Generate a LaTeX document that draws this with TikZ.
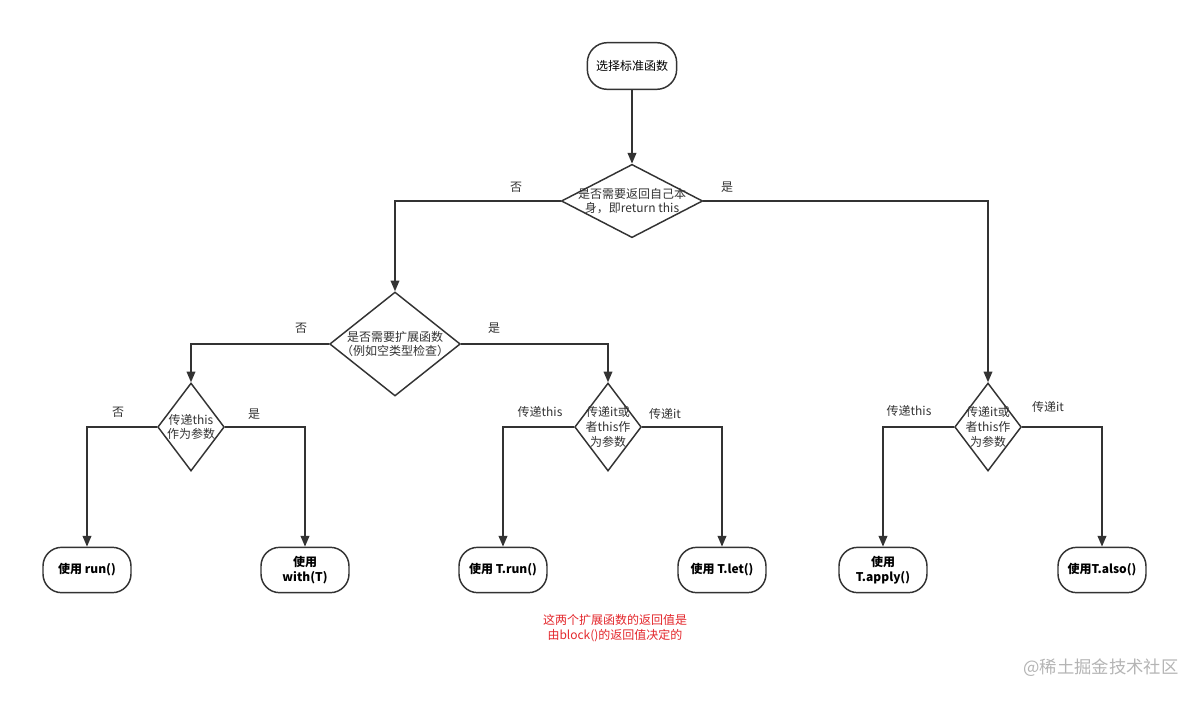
\documentclass[tikz,border=0pt]{standalone}
\usepackage{fontspec}
\setmainfont{Noto Sans CJK SC}
\usepackage{tikz}
\usetikzlibrary{shapes,shapes.geometric,arrows.meta,positioning}
\definecolor{linegray}{HTML}{333333}
\definecolor{notered}{HTML}{E3262B}
\definecolor{markgray}{HTML}{B4B4B4}

\begin{document}
\begin{tikzpicture}[x=0.75pt, y=-0.75pt,
  term/.style={rectangle, draw=linegray, line width=1.1pt, rounded corners=14pt,
    minimum width=66pt, minimum height=34pt, align=center,
    font=\fontsize{9}{11}\selectfont\bfseries, fill=white, inner sep=1pt},
  dec/.style={diamond, draw=linegray, line width=1.1pt, inner sep=0pt, fill=white},
  txt/.style={align=center, font=\fontsize{9}{11}\selectfont, text=linegray},
  lbl/.style={font=\fontsize{9}{10}\selectfont, text=linegray},
  arr/.style={-{Triangle[length=8pt,width=6.5pt]}, line width=1.1pt, draw=linegray}
]
\useasboundingbox (0,0) rectangle (1200,701);

% Top
\node[term, minimum width=67pt, minimum height=35pt, rounded corners=15pt,
  font=\fontsize{9}{11}\selectfont] (start) at (632,66) {选择标准函数};
\node[dec, minimum width=106pt, minimum height=55pt,
  label={[txt]center:{是否需要返回自己本\\身，即return this}}] (self) at (632,201) {};

% Extension branch
\node[dec, minimum width=98pt, minimum height=78pt,
  label={[txt]center:{是否需要扩展函数\\（例如空类型检查）}}] (ext) at (395,344) {};
\node[dec, minimum width=50pt, minimum height=66pt,
  label={[txt]center:{传递this\\作为参数}}] (plain) at (191,427) {};
\node[dec, minimum width=50pt, minimum height=66pt,
  label={[txt]center:{传递it或\\者this作\\为参数}}] (extarg) at (608,427) {};
\node[dec, minimum width=50pt, minimum height=66pt,
  label={[txt]center:{传递it或\\者this作\\为参数}}] (selfarg) at (988,427) {};

% Results
\node[term] (run)   at (87,570)   {使用 run()};
\node[term] (with)  at (305,570)  {使用\\with(T)};
\node[term] (trun)  at (503,570)  {使用 T.run()};
\node[term] (tlet)  at (722,570)  {使用 T.let()};
\node[term] (apply) at (883,570)  {使用\\T.apply()};
\node[term] (also)  at (1102,570) {使用T.also()};

% Labels
\node[lbl] (no1)   at (516,187)  {否};
\node[lbl] (yes1)  at (727,187)  {是};
\node[lbl] (no2)   at (301,328)  {否};
\node[lbl] (yes2)  at (494,328)  {是};
\node[lbl] (no3)   at (118,412)  {否};
\node[lbl] (yes3)  at (254,414)  {是};
\node[lbl] (this1) at (540,412)  {传递this};
\node[lbl] (it1)   at (665,414)  {传递it};
\node[lbl] (this2) at (909,411)  {传递this};
\node[lbl] (it2)   at (1048,407) {传递it};

\node[align=center, text=notered, font=\fontsize{9}{11}\selectfont] (note) at (615,628)
  {这两个扩展函数的返回值是\\由block()的返回值决定的};
\node[text=markgray, font=\fontsize{13}{15}\selectfont] (mark) at (1101,668) {@稀土掘金技术社区};

% Edges
\draw[arr] (start) -- (self);
\draw[arr] (self.west) -| (ext.north);
\draw[arr] (self.east) -| (selfarg.north);
\draw[arr] (ext.west) -| (plain.north);
\draw[arr] (ext.east) -| (extarg.north);
\draw[arr] (plain.west) -| (run.north);
\draw[arr] (plain.east) -| (with.north);
\draw[arr] (extarg.west) -| (trun.north);
\draw[arr] (extarg.east) -| (tlet.north);
\draw[arr] (selfarg.west) -| (apply.north);
\draw[arr] (selfarg.east) -| (also.north);

\end{tikzpicture}
\end{document}
